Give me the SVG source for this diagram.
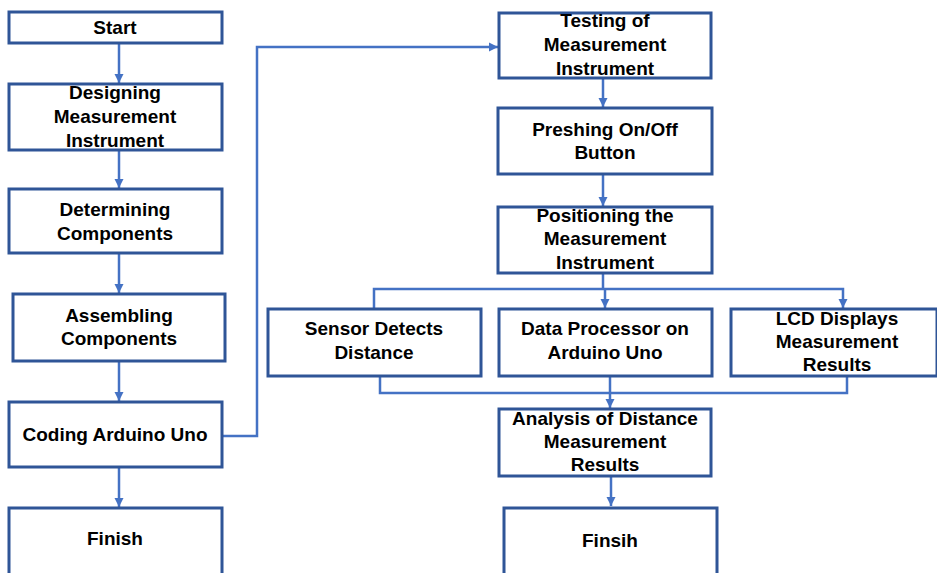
<svg xmlns="http://www.w3.org/2000/svg" width="937" height="573" viewBox="0 0 937 573">
<style>
.box{fill:#fff;stroke:#2F5597;stroke-width:3}
.t{font-family:"Liberation Sans",Arial,sans-serif;font-weight:bold;font-size:19px;fill:#000;text-anchor:middle}
.c{fill:none;stroke:#4472C4;stroke-width:2.5}
.a{marker-end:url(#ah)}
</style>
<defs>
<marker id="ah" markerUnits="userSpaceOnUse" markerWidth="10" markerHeight="10" refX="9" refY="5" orient="auto">
<path d="M0,0.5 L9,5 L0,9.5 z" fill="#4472C4"/>
</marker>
</defs>
<rect width="937" height="573" fill="#fff"/>
<g id="connectors">
<path class="c a" d="M119,43 V83"/>
<path class="c a" d="M119,150 V188"/>
<path class="c a" d="M119,253 V293"/>
<path class="c a" d="M119,361 V401"/>
<path class="c a" d="M119,467 V507"/>
<path class="c a" d="M222,436 H257 V47 H498"/>
<path class="c a" d="M603,78 V107"/>
<path class="c a" d="M603,174 V206"/>
<path class="c" d="M603,273 V289"/>
<path class="c a" d="M374,308 V289 H843 V308"/>
<path class="c a" d="M605,289 V308"/>
<path class="c" d="M380,376 V393 H847 V376"/>
<path class="c a" d="M610,376 V408"/>
<path class="c a" d="M611,476 V506"/>
</g>
<g id="start"><rect class="box" x="9" y="12" width="213" height="31"/><text class="t" x="115" y="34">Start</text></g>
<g id="designing"><rect class="box" x="9" y="84" width="213" height="66"/><text class="t" x="115" y="99">Designing</text><text class="t" x="115" y="123">Measurement</text><text class="t" x="115" y="147">Instrument</text></g>
<g id="determining"><rect class="box" x="9" y="189" width="213" height="64"/><text class="t" x="115" y="216">Determining</text><text class="t" x="115" y="240">Components</text></g>
<g id="assembling"><rect class="box" x="13" y="294" width="212" height="67"/><text class="t" x="119" y="322">Assembling</text><text class="t" x="119" y="345">Components</text></g>
<g id="coding"><rect class="box" x="9" y="402" width="213" height="65"/><text class="t" x="115" y="441">Coding Arduino Uno</text></g>
<g id="finish"><rect class="box" x="9" y="508" width="213" height="70"/><text class="t" x="115" y="545">Finish</text></g>
<g id="testing"><rect class="box" x="499" y="13" width="212" height="65"/><text class="t" x="605" y="27">Testing of</text><text class="t" x="605" y="51">Measurement</text><text class="t" x="605" y="75">Instrument</text></g>
<g id="preshing"><rect class="box" x="498" y="108" width="214" height="66"/><text class="t" x="605" y="136">Preshing On/Off</text><text class="t" x="605" y="159">Button</text></g>
<g id="positioning"><rect class="box" x="498" y="207" width="214" height="66"/><text class="t" x="605" y="222">Positioning the</text><text class="t" x="605" y="245">Measurement</text><text class="t" x="605" y="269">Instrument</text></g>
<g id="sensor"><rect class="box" x="268" y="309" width="213" height="67"/><text class="t" x="374" y="335">Sensor Detects</text><text class="t" x="374" y="359">Distance</text></g>
<g id="processor"><rect class="box" x="499" y="309" width="213" height="67"/><text class="t" x="605" y="335">Data Processor on</text><text class="t" x="605" y="359">Arduino Uno</text></g>
<g id="lcd"><rect class="box" x="731" y="309" width="206" height="67"/><text class="t" x="837" y="325">LCD Displays</text><text class="t" x="837" y="348">Measurement</text><text class="t" x="837" y="371">Results</text></g>
<g id="analysis"><rect class="box" x="499" y="409" width="212" height="67"/><text class="t" x="605" y="425">Analysis of Distance</text><text class="t" x="605" y="448">Measurement</text><text class="t" x="605" y="471">Results</text></g>
<g id="finsih"><rect class="box" x="504" y="508" width="213" height="70"/><text class="t" x="610" y="547">Finsih</text></g>
</svg>
